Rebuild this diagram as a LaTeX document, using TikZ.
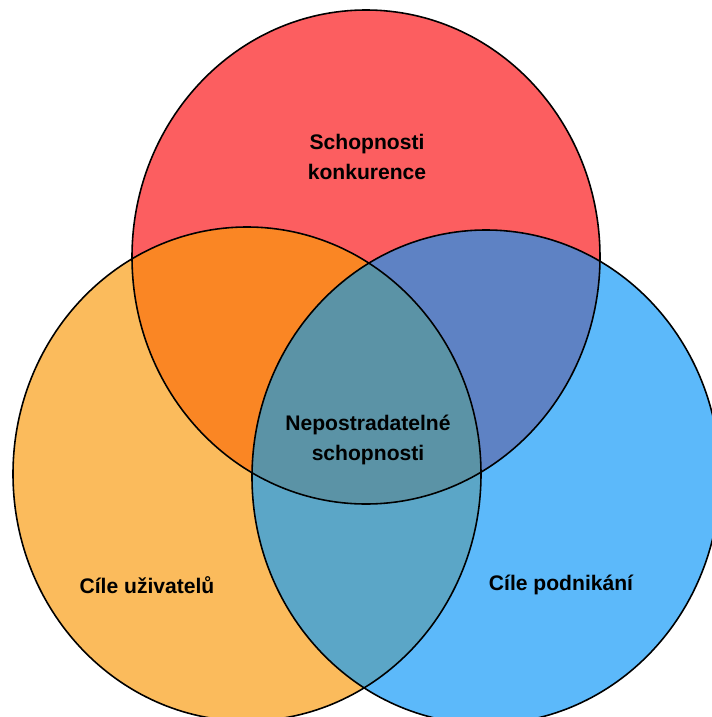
\documentclass[tikz,border=0pt]{standalone}
\usepackage{fontspec}
\usepackage{xcolor}
\usepackage{tikz}
\setmainfont{Liberation Sans}
\definecolor{vennRed}{HTML}{FC5E60}
\definecolor{vennOrange}{HTML}{FBBB5C}
\definecolor{vennBlue}{HTML}{5CB9FA}
\definecolor{vennRedOrange}{HTML}{FA8624}
\definecolor{vennRedBlue}{HTML}{5E82C4}
\definecolor{vennOrangeBlue}{HTML}{5BA6C7}
\definecolor{vennCore}{HTML}{5B93A6}
\tikzset{
  vennshape/.style={x radius=4.68,y radius=4.94},
  venncircle/.style={draw=black,line width=0.9pt},
  vennlabel/.style={align=center,text=black,font=\bfseries\fontsize{12}{17}\selectfont}
}

\begin{document}
\begin{tikzpicture}
  \useasboundingbox (0,0) rectangle (14.24,-14.34);
  \coordinate (cRed) at (7.32,-5.14);
  \coordinate (cOrange) at (4.94,-9.48);
  \coordinate (cBlue) at (9.72,-9.54);
  % plain fills
  \fill[vennRed] (cRed) ellipse [vennshape];
  \fill[vennOrange] (cOrange) ellipse [vennshape];
  \fill[vennBlue] (cBlue) ellipse [vennshape];
  % overlaps
  \begin{scope}
    \clip (cRed) ellipse [vennshape];
    \fill[vennRedOrange] (cOrange) ellipse [vennshape];
    \fill[vennRedBlue] (cBlue) ellipse [vennshape];
  \end{scope}
  \begin{scope}
    \clip (cOrange) ellipse [vennshape];
    \fill[vennOrangeBlue] (cBlue) ellipse [vennshape];
    \clip (cRed) ellipse [vennshape];
    \fill[vennCore] (cBlue) ellipse [vennshape];
  \end{scope}
  % outlines
  \draw[venncircle] (cRed) ellipse [vennshape];
  \draw[venncircle] (cOrange) ellipse [vennshape];
  \draw[venncircle] (cBlue) ellipse [vennshape];
  % labels
  \node[vennlabel] (lblRed) at (7.34,-3.14) {Schopnosti\\konkurence};
  \node[vennlabel] (lblCore) at (7.36,-8.80) {Nepostradatelné\\schopnosti};
  \node[vennlabel] (lblOrange) at (2.94,-11.70) {Cíle uživatelů};
  \node[vennlabel] (lblBlue) at (11.22,-11.70) {Cíle podnikání};
\end{tikzpicture}
\end{document}
